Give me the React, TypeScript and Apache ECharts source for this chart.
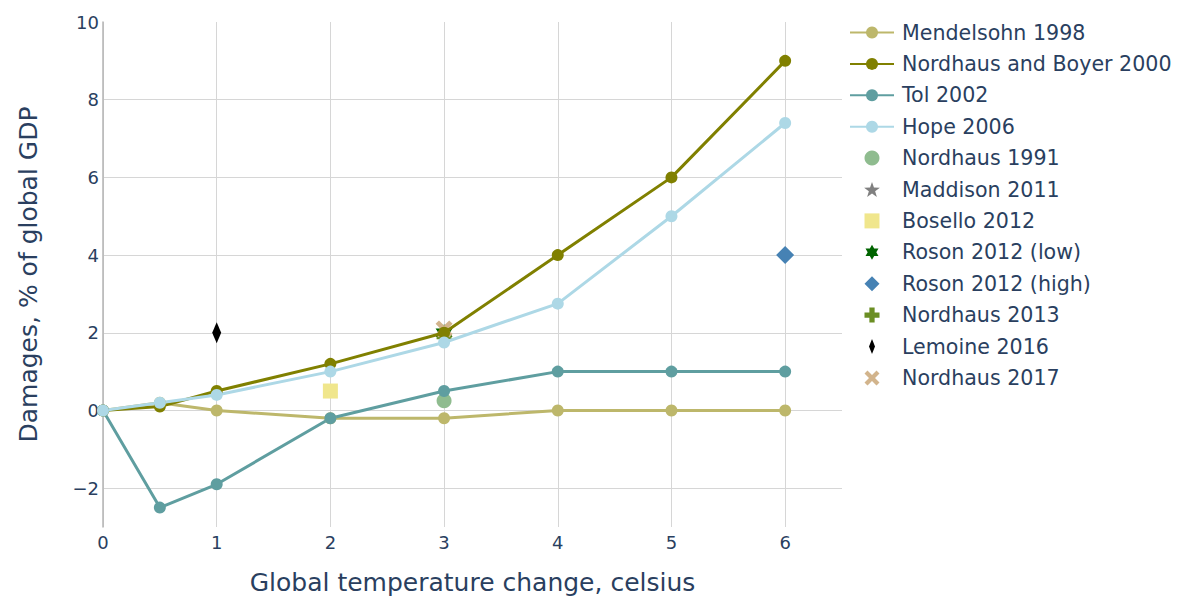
import React, { useEffect, useRef } from "react";
import * as echarts from "echarts";

const xTicks = [0, 1, 2, 3, 4, 5, 6];
const yLabelTicks = [-2, 0, 2, 4, 6, 8, 10];
const yGridTicks = [-2, 0, 2, 4, 6, 8];

const lineTemps = [0, 0.5, 1, 2, 3, 4, 5, 6];
const mendelsohn1998 = [0, 0.2, 0, -0.2, -0.2, 0, 0, 0];
const nordhausBoyer2000 = [0, 0.1, 0.5, 1.2, 2, 4, 6, 9];
const tol2002 = [0, -2.5, -1.9, -0.2, 0.5, 1, 1, 1];
const hope2006 = [0, 0.2, 0.4, 1.0, 1.75, 2.75, 5, 7.4];

const nordhaus1991 = [[3, 0.25]];
const maddison2011 = [[3, 2.0]];
const bosello2012 = [[2, 0.5]];
const rosonLow2012 = [[3, 2.0]];
const rosonHigh2012 = [[6, 4]];
const nordhaus2013 = [[3, 1.9]];
const lemoine2016 = [[1, 2]];
const nordhaus2017 = [[3, 2.1]];

const TEXT = "#2a3f5f";
const FONT = "DejaVu Sans";

const STAR =
  "path://M0,-10 L2.35,-3.24 L9.51,-3.09 L3.8,1.24 L5.88,8.09 L0,4 L-5.88,8.09 L-3.8,1.24 L-9.51,-3.09 L-2.35,-3.24 Z";
const HEXAGRAM =
  "path://M0,-10 L2.89,-5 L8.66,-5 L5.77,0 L8.66,5 L2.89,5 L0,10 L-2.89,5 L-8.66,5 L-5.77,0 L-8.66,-5 L-2.89,-5 Z";
const CROSS =
  "path://M-3.5,-10 L3.5,-10 L3.5,-3.5 L10,-3.5 L10,3.5 L3.5,3.5 L3.5,10 L-3.5,10 L-3.5,3.5 L-10,3.5 L-10,-3.5 L-3.5,-3.5 Z";
const XMARK =
  "path://M0,-4 L6,-10 L10,-6 L4,0 L10,6 L6,10 L0,4 L-6,10 L-10,6 L-4,0 L-10,-6 L-6,-10 Z";
const THIN_DIAMOND = "path://M0,-10 L4,0 L0,10 L-4,0 Z";
const SQUARE = "path://M-10,-10 L10,-10 L10,10 L-10,10 Z";
const DIAMOND = "path://M0,-10 L10,0 L0,10 L-10,0 Z";

function pairs(xs: number[], ys: number[]) {
  return xs.map((x, i) => [x, ys[i]]);
}

function lineSeries(name: string, ys: number[], color: string) {
  return {
    name,
    type: "line",
    data: pairs(lineTemps, ys),
    symbol: "circle",
    symbolSize: 12,
    showSymbol: true,
    lineStyle: { color, width: 3 },
    itemStyle: { color },
  };
}

function scatterSeries(
  name: string,
  data: number[][],
  color: string,
  symbol: string,
  size: number | number[]
) {
  return {
    name,
    type: "scatter",
    data,
    symbol,
    symbolSize: size,
    itemStyle: { color, opacity: 1 },
  };
}

export default function App() {
  const ref = useRef<HTMLDivElement>(null);
  useEffect(() => {
    document.body.style.margin = "0";
    if (!ref.current) return;
    const chart = echarts.init(ref.current, null, { renderer: "svg" });
    const minus = (v: number) => String(v).replace("-", "\u2212");
    chart.setOption({
      animation: false,
      backgroundColor: "#ffffff",
      textStyle: { fontFamily: FONT },
      grid: { left: 103, right: 337, top: 22, bottom: 69, outerBoundsMode: "none", containLabel: false },
      legend: {
        orient: "vertical",
        left: 849,
        top: 22,
        padding: 0,
        itemWidth: 44,
        itemHeight: 15,
        itemGap: 10.4,
        textStyle: {
          fontFamily: FONT,
          fontSize: 20.6,
          color: TEXT,
          padding: [0, 0, 0, 3],
        },
      },
      xAxis: {
        type: "value",
        min: 0,
        max: 6.5,
        name: "Global temperature change, celsius",
        nameLocation: "middle",
        nameGap: 43,
        nameTextStyle: { fontFamily: FONT, fontSize: 25, color: TEXT },
        axisLine: { show: false },
        axisTick: { show: false, customValues: xTicks },
        axisLabel: {
          customValues: xTicks,
          fontFamily: FONT,
          fontSize: 18,
          color: TEXT,
          margin: 6,
          formatter: minus,
        },
        splitLine: { show: true, lineStyle: { color: "#d6d6d6", width: 1 } },
      },
      yAxis: {
        type: "value",
        min: -3,
        max: 10,
        name: "Damages, % of global GDP",
        nameLocation: "middle",
        nameGap: 62,
        nameTextStyle: { fontFamily: FONT, fontSize: 25, color: TEXT },
        axisLine: { show: true, lineStyle: { color: "#b5b5b5", width: 1.5 } },
        axisTick: { show: false, customValues: yGridTicks },
        axisLabel: {
          customValues: yLabelTicks,
          fontFamily: FONT,
          fontSize: 18,
          color: TEXT,
          margin: 4,
          formatter: minus,
        },
        splitLine: { show: true, lineStyle: { color: "#d6d6d6", width: 1 } },
      },
      series: [
        lineSeries("Mendelsohn 1998", mendelsohn1998, "#bdb76b"),
        lineSeries("Nordhaus and Boyer 2000", nordhausBoyer2000, "#808000"),
        lineSeries("Tol 2002", tol2002, "#5f9ea0"),
        lineSeries("Hope 2006", hope2006, "#add8e6"),
        scatterSeries("Nordhaus 1991", nordhaus1991, "#8fbc8f", "circle", 15),
        scatterSeries("Maddison 2011", maddison2011, "#808080", STAR, 14),
        scatterSeries("Bosello 2012", bosello2012, "#f0e68c", SQUARE, 15),
        scatterSeries("Roson 2012 (low)", rosonLow2012, "#006400", HEXAGRAM, 17),
        scatterSeries("Roson 2012 (high)", rosonHigh2012, "#4682b4", DIAMOND, 18),
        scatterSeries("Nordhaus 2013", nordhaus2013, "#6b8e23", CROSS, 15),
        scatterSeries("Lemoine 2016", lemoine2016, "#000000", THIN_DIAMOND, [9, 21]),
        scatterSeries("Nordhaus 2017", nordhaus2017, "#d2b48c", XMARK, 17),
      ],
    });
    return () => chart.dispose();
  }, []);
  return <div ref={ref} style={{ width: 1179, height: 596 }} />;
}
